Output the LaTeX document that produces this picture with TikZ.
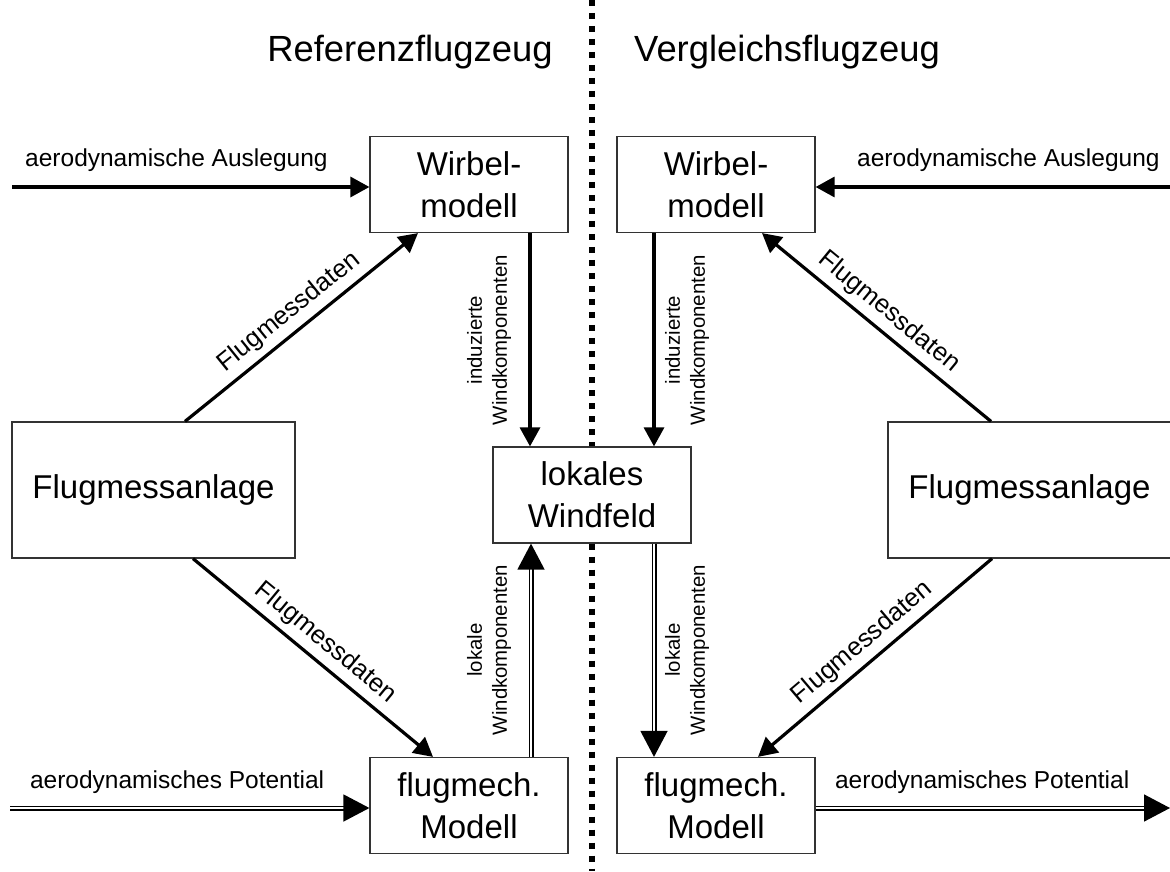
\documentclass[tikz,border=0pt]{standalone}
\usepackage{fontspec}
\setmainfont{Liberation Sans}
\usetikzlibrary{arrows.meta}

\begin{document}
\begin{tikzpicture}
[x=0.5pt, y=-0.5pt,
block/.style={draw=black!80, line width=0.6pt, fill=white, align=center, inner sep=0pt, minimum width=99pt, minimum height=48pt, font=\fontsize{16.5}{20.8}\selectfont},
wide block/.style={block, minimum width=141.5pt, minimum height=68pt},
headline/.style={anchor=base, font=\fontsize{18.2}{22}\selectfont},
flow/.style={line width=1.6pt, -{Triangle[length=9.5pt,width=10pt]}},
dflow/.style={double, line width=0.75pt, double distance=1pt, -{Triangle[length=13pt,width=13.5pt]}},
hlabel/.style={font=\fontsize{12.25}{14}\selectfont, inner sep=0pt, above=7pt},
slabel/.style={font=\fontsize{12.8}{14}\selectfont, sloped, above=3pt, inner sep=0pt},
vlabel/.style={font=\fontsize{10.2}{12.5}\selectfont, align=center, rotate=90, inner sep=0pt},
divider/.style={line width=3.2pt, dash pattern=on 3.2pt off 3.3pt}]
\useasboundingbox (0,0) rectangle (1170,871);
\node[headline] (refTitle) at (410,62) {Referenzflugzeug};
\node[headline] (cmpTitle) at (787,62) {Vergleichsflugzeug};
% boxes
\node[block] (wirbelRef) at (469,184.5) {Wirbel-\\modell};
\node[block] (wirbelCmp) at (716,184.5) {Wirbel-\\modell};
\node[block] (windfeld) at (592,495) {lokales\\Windfeld};
\node[wide block] (messRef) at (153.5,490) {Flugmessanlage};
\node[wide block] (messCmp) at (1029.5,490) {Flugmessanlage};
\node[block] (mechRef) at (469,805.5) {flugmech.\\Modell};
\node[block] (mechCmp) at (716,805.5) {flugmech.\\Modell};
% divider
\draw[divider] (592,0) -- (windfeld.north);
\draw[divider] (windfeld.south) -- (592,871);
% inputs and outputs
\coordinate (auslRef) at (12,187);
\coordinate (auslCmp) at (1170,187);
\coordinate (potRef) at (10,808);
\coordinate (potCmp) at (1170,808);
\draw[flow] (auslRef) -- (auslRef -| wirbelRef.west) node[hlabel, pos=0.46] (auslRefLab) {aerodynamische Auslegung};
\draw[flow] (auslCmp) -- (auslCmp -| wirbelCmp.east) node[hlabel, pos=0.456] (auslCmpLab) {aerodynamische Auslegung};
\draw[dflow] (potRef) -- (potRef -| mechRef.west) node[hlabel, pos=0.465] (potRefLab) {aerodynamisches Potential};
\draw[dflow] (potCmp -| mechCmp.east) -- (potCmp) node[hlabel, pos=0.47] (potCmpLab) {aerodynamisches Potential};
% Flugmessdaten
\draw[flow] (185,0 |- messRef.north) -- (418,0 |- wirbelRef.south) node[slabel, midway] (fmdA) {Flugmessdaten};
\draw[flow] (193,0 |- messRef.south) -- (433,0 |- mechRef.north) node[slabel, midway] (fmdB) {Flugmessdaten};
\draw[flow] (991,0 |- messCmp.north) -- (762,0 |- wirbelCmp.south) node[slabel, midway] (fmdC) {Flugmessdaten};
\draw[flow] (992,0 |- messCmp.south) -- (758,0 |- mechCmp.north) node[slabel, midway] (fmdD) {Flugmessdaten};
% wind components
\draw[flow] (530,0 |- wirbelRef.south) -- (530,0 |- windfeld.north);
\draw[flow] (654,0 |- wirbelCmp.south) -- (654,0 |- windfeld.north);
\draw[dflow] (531,0 |- mechRef.north) -- (531,0 |- windfeld.south);
\draw[dflow] (654,0 |- windfeld.south) -- (654,0 |- mechCmp.north);
\node[vlabel] (indRefLab) at (489,340) {induzierte\\Windkomponenten};
\node[vlabel] (indCmpLab) at (687,340) {induzierte\\Windkomponenten};
\node[vlabel] (lokRefLab) at (489,650) {lokale\\Windkomponenten};
\node[vlabel] (lokCmpLab) at (687,650) {lokale\\Windkomponenten};
\end{tikzpicture}
\end{document}
